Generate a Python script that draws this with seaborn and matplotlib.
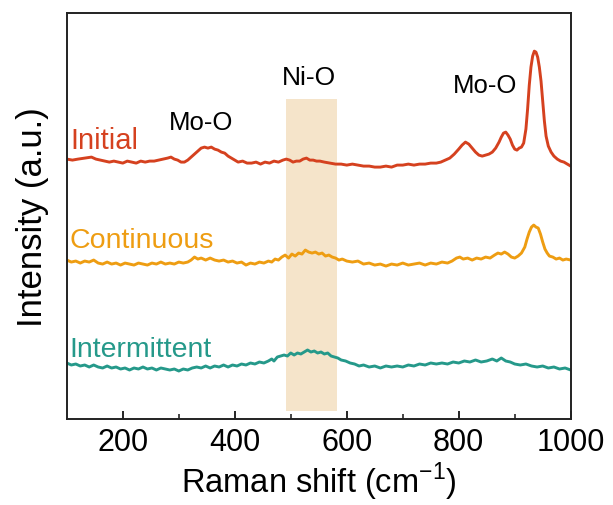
import matplotlib
matplotlib.use("Agg")
import matplotlib.pyplot as plt
import seaborn as sns
import pandas as pd

sns.set_theme(style="white")
plt.rcParams['font.family'] = ['Liberation Sans', 'DejaVu Sans']

# Raman shift (cm^-1) and intensities (a.u., offset for display)
initial_x = [100, 110, 120, 132, 144, 152, 160, 168, 176, 184, 192, 200, 208, 216, 224, 232, 240, 248, 256,
             264, 272, 280, 286, 292, 298, 304, 310, 316, 322, 328, 334, 340, 346, 352, 358, 364, 370, 376,
             382, 388, 394, 400, 406, 414, 422, 430, 438, 446, 454, 462, 470, 478, 486, 492, 498, 504, 510,
             516, 522, 528, 534, 540, 546, 552, 560, 570, 580, 590, 600, 610, 620, 630, 640, 650, 660, 670,
             680, 690, 700, 710, 720, 730, 740, 750, 760, 768, 776, 784, 792, 800, 806, 812, 818, 824, 830,
             836, 842, 848, 854, 860, 866, 872, 876, 880, 884, 888, 892, 896, 900, 904, 908, 912, 916, 920,
             923, 926, 929, 932, 935, 938, 941, 944, 947, 950, 953, 956, 960, 965, 970, 976, 982, 988, 994,
             1000]
initial_y = [260, 259, 260, 261, 262, 260, 259, 258, 257, 258, 257, 256, 258, 257, 256, 258, 257, 258, 258,
             259, 260, 261, 262, 260, 259, 257, 257, 259, 262, 265, 268, 271, 272, 271, 272, 270, 269, 267,
             266, 263, 261, 259, 257, 258, 256, 256, 257, 255, 257, 256, 258, 257, 259, 260, 259, 257, 258,
             258, 260, 261, 259, 259, 258, 258, 257, 256, 255, 255, 254, 255, 254, 253, 253, 252, 252, 253,
             252, 254, 254, 255, 254, 255, 255, 256, 256, 257, 259, 261, 265, 270, 274, 277, 275, 271, 267,
             264, 263, 264, 265, 267, 271, 277, 282, 286, 287, 284, 280, 274, 270, 269, 271, 272, 276, 290,
             310, 334, 352, 363, 368, 367, 362, 352, 338, 318, 298, 283, 273, 267, 263, 260, 258, 257, 255,
             253]

continuous_x = [100, 108, 116, 124, 132, 140, 148, 156, 164, 172, 180, 188, 196, 204, 212, 220, 228, 236, 244,
                252, 260, 268, 276, 284, 292, 300, 308, 316, 322, 328, 334, 340, 348, 356, 364, 372, 380, 388,
                396, 404, 412, 420, 428, 436, 444, 452, 460, 466, 472, 478, 484, 490, 496, 502, 508, 514, 520,
                526, 532, 538, 544, 550, 556, 562, 568, 574, 580, 586, 592, 600, 610, 620, 630, 640, 650, 660,
                670, 680, 690, 700, 710, 720, 730, 740, 750, 760, 770, 780, 788, 796, 802, 808, 816, 824, 832,
                840, 848, 856, 864, 870, 876, 882, 888, 894, 900, 906, 912, 918, 922, 926, 930, 934, 938, 942,
                946, 950, 954, 958, 962, 968, 974, 980, 986, 992, 1000]
continuous_y = [159, 157, 158, 156, 158, 157, 159, 156, 155, 157, 155, 156, 154, 156, 155, 154, 156, 155, 154,
                156, 155, 157, 155, 156, 155, 157, 156, 157, 159, 162, 160, 161, 159, 161, 159, 158, 159, 157,
                158, 156, 157, 154, 156, 155, 157, 156, 158, 157, 160, 159, 162, 164, 161, 165, 163, 166, 165,
                169, 167, 166, 167, 165, 166, 163, 164, 162, 161, 159, 160, 158, 157, 158, 155, 156, 154, 155,
                153, 155, 154, 156, 154, 155, 156, 154, 156, 155, 157, 156, 158, 161, 162, 160, 161, 159, 161,
                160, 162, 161, 164, 166, 165, 167, 165, 162, 161, 163, 166, 172, 180, 187, 192, 194, 192, 191,
                185, 177, 170, 166, 163, 162, 160, 161, 159, 160, 159]

intermittent_x = [100, 108, 116, 124, 132, 140, 148, 156, 164, 172, 180, 188, 196, 204, 212, 220, 228, 236, 244,
                  252, 260, 268, 276, 284, 292, 300, 308, 316, 324, 332, 340, 348, 356, 364, 372, 380, 388, 396,
                  404, 412, 420, 428, 436, 444, 452, 460, 466, 470, 476, 482, 488, 494, 500, 506, 512, 518, 524,
                  530, 536, 542, 548, 554, 560, 566, 572, 578, 584, 590, 598, 606, 614, 622, 630, 640, 650, 660,
                  670, 680, 690, 700, 710, 720, 730, 740, 750, 760, 770, 780, 790, 800, 810, 820, 830, 840, 850,
                  860, 868, 876, 884, 892, 900, 910, 920, 930, 940, 950, 960, 970, 980, 990, 1000]
intermittent_y = [56, 54, 55, 53, 54, 52, 54, 52, 51, 53, 51, 52, 50, 51, 49, 51, 50, 52, 50,
                  51, 49, 51, 50, 49, 50, 48, 50, 49, 51, 52, 51, 53, 51, 53, 52, 54, 52, 54,
                  53, 55, 54, 56, 55, 57, 56, 58, 60, 58, 62, 63, 64, 63, 66, 64, 66, 65, 67,
                  69, 67, 68, 66, 67, 65, 66, 63, 62, 61, 59, 58, 56, 55, 53, 54, 52, 53, 51,
                  53, 52, 53, 52, 54, 53, 55, 54, 56, 55, 56, 55, 57, 56, 58, 57, 59, 57, 58,
                  60, 58, 61, 58, 57, 55, 54, 55, 53, 52, 53, 51, 52, 50, 51, 49]

labels = ["Initial", "Continuous", "Intermittent"]
colors = ["#D5411F", "#EE9D12", "#25998A"]

frames = []
for name, xs, ys in [("Initial", initial_x, initial_y),
                     ("Continuous", continuous_x, continuous_y),
                     ("Intermittent", intermittent_x, intermittent_y)]:
    frames.append(pd.DataFrame({"shift": xs, "intensity": ys, "sample": name}))
df = pd.concat(frames, ignore_index=True)

fig = plt.figure(figsize=(6.13, 5.06), dpi=100)
ax = fig.add_axes([0.109, 0.170, 0.822, 0.802])

# shaded Ni-O region
ax.axvspan(492, 583, ymin=8 / 406, ymax=320 / 406, color="#F5E4CA", lw=0, zorder=0)

sns.lineplot(data=df, x="shift", y="intensity", hue="sample", hue_order=labels,
             palette=colors, linewidth=2.1, legend=False, ax=ax, sort=False, estimator=None)

ax.set_xlim(100, 1000)
ax.set_ylim(0, 406)
ax.set_xticks([200, 400, 600, 800, 1000])
ax.set_xticks([300, 500, 700, 900], minor=True)
ax.set_yticks([])
ax.tick_params(axis="x", which="major", direction="in", length=6, width=1.2, labelsize=22, pad=6,
               colors="black", bottom=True)
ax.tick_params(axis="x", which="minor", direction="in", length=3.5, width=1.2, bottom=True)
for s in ax.spines.values():
    s.set_color("#222222")
    s.set_linewidth(1.4)

ax.set_xlabel("Raman shift (cm$^{\\mathregular{-1}}$)", fontsize=23.5, labelpad=2, color="black")
ax.set_ylabel("Intensity (a.u.)", fontsize=25, labelpad=13, color="black")

ax.text(106, 271, "Initial", color=colors[0], fontsize=21, va="baseline", ha="left")
ax.text(104, 172, "Continuous", color=colors[1], fontsize=20.5, va="baseline", ha="left")
ax.text(104, 63, "Intermittent", color=colors[2], fontsize=20.5, va="baseline", ha="left")
ax.text(282, 290, "Mo-O", color="black", fontsize=18.5, va="baseline", ha="left")
ax.text(485, 335, "Ni-O", color="black", fontsize=19, va="baseline", ha="left")
ax.text(789, 327, "Mo-O", color="black", fontsize=18.5, va="baseline", ha="left")

fig.savefig("out.png", dpi=100)
